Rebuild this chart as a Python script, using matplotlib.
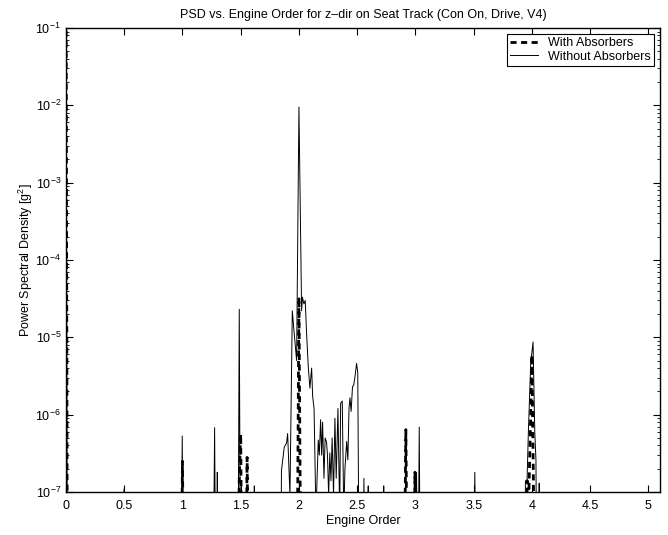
import numpy as np
import matplotlib
matplotlib.use("Agg")
import matplotlib.pyplot as plt
from matplotlib.ticker import LogLocator, NullFormatter

plt.rcParams['font.family'] = ['Liberation Sans', 'DejaVu Sans']
plt.rcParams['mathtext.default'] = 'regular'

FLOOR = 1e-9  # below the visible range, lines drop off the bottom

# With Absorbers (dashed)
eo_with = [0.0, 0.0125, 0.985, 1.0, 1.015, 1.475, 1.4875, 1.5, 1.5125, 1.54, 1.555, 1.57,
           1.97, 1.99, 2.0, 2.01, 2.025, 2.90, 2.918, 2.935, 2.985, 2.996, 3.01,
           3.94, 3.96, 3.975, 3.99, 4.0, 4.012, 4.03, 5.1]
psd_with = [1.0, FLOOR, FLOOR, 2.5e-7, FLOOR, FLOOR, 1.5e-7, 5.6e-7, FLOOR, FLOOR, 2.8e-7, FLOOR,
            FLOOR, 1.2e-7, 3.3e-5, 1.5e-7, FLOOR, FLOOR, 6.4e-7, FLOOR, FLOOR, 1.8e-7, FLOOR,
            FLOOR, 1.4e-7, 1.1e-7, 1.0e-6, 5.9e-6, 2e-7, FLOOR, FLOOR]

# Without Absorbers (solid)
eo_without = [0.0, 0.0125, 0.49, 0.5, 0.51, 0.985, 0.998, 1.01,
              1.26, 1.276, 1.288, 1.299, 1.31,
              1.475, 1.4875, 1.5, 1.605, 1.617, 1.63,
              1.84, 1.85, 1.874, 1.894, 1.903, 1.923, 1.943, 1.96, 1.98, 2.0, 2.023, 2.03,
              2.043, 2.054, 2.066, 2.08, 2.094, 2.109, 2.118, 2.13, 2.146, 2.166, 2.175, 2.186,
              2.195, 2.203, 2.215, 2.225, 2.237, 2.245, 2.255, 2.265, 2.275, 2.285, 2.297,
              2.309, 2.32, 2.335, 2.35, 2.358, 2.372, 2.385, 2.395, 2.41, 2.42, 2.43, 2.438,
              2.448, 2.46, 2.47, 2.48, 2.495, 2.505, 2.52,
              2.545, 2.558, 2.57, 2.585, 2.595, 2.605, 2.715, 2.728, 2.74,
              2.995, 3.01, 3.02, 3.033, 3.045, 3.495, 3.51, 3.525,
              3.93, 3.945, 3.958, 3.97, 3.99, 4.01, 4.025, 4.035, 4.045, 4.055, 4.063, 4.075, 5.1]
psd_without = [1.0, FLOOR, FLOOR, 1.1e-7, FLOOR, FLOOR, 5.3e-7, FLOOR,
               FLOOR, 6.8e-7, FLOOR, 1.8e-7, FLOOR,
               FLOOR, 2.3e-5, FLOOR, FLOOR, 1.2e-7, FLOOR,
               FLOOR, 1.9e-7, 3.8e-7, 4.3e-7, 5.7e-7, 9e-8, 2.2e-5, 1.1e-5, 5e-6, 9.5e-3, 2.2e-5, 3.3e-5,
               2.7e-5, 3.0e-5, 1.1e-5, 4.2e-6, 2.2e-6, 4e-6, 1.7e-6, 1.2e-6, 5e-8, 4.7e-7, 3e-7, 8.6e-7,
               3e-7, 8e-7, 1.5e-7, 5e-7, 4.4e-7, 3e-7, 9e-8, 3.2e-7, 1.4e-7, 5e-7, 9e-8,
               9e-7, 1.5e-7, 1.2e-6, 5e-8, 1.4e-6, 1.5e-6, 5e-8, 2e-7, 4.5e-7, 2.6e-7, 1.2e-6, 1.65e-6,
               1.1e-6, 2.3e-6, 2.4e-6, 3e-6, 4.6e-6, 3.5e-6, FLOOR,
               FLOOR, 1.5e-7, FLOOR, FLOOR, 1.2e-7, FLOOR, FLOOR, 1.2e-7, FLOOR,
               FLOOR, 1.8e-7, FLOOR, 6.9e-7, FLOOR, FLOOR, 1.8e-7, FLOOR,
               FLOOR, 1.4e-7, 1.3e-7, 6e-7, 4.6e-6, 8.7e-6, 6e-7, 2.6e-7, FLOOR, FLOOR, 1.3e-7, FLOOR, FLOOR]

fig = plt.figure(figsize=(6.68, 5.35), dpi=100)
ax = fig.add_axes([0.0988, 0.0804, 0.8892, 0.8673])

ax.semilogy(eo_with, psd_with, color='black', linewidth=2.0, dashes=(2.2, 1.6),
            label='With Absorbers')
ax.semilogy(eo_without, psd_without, color='black', linewidth=0.7, label='Without Absorbers')

ax.set_xlim(0, 5.1)
ax.set_ylim(1e-7, 1e-1)
ax.set_xticks(np.arange(0, 5.01, 0.5))
ax.set_xticklabels(['0', '0.5', '1', '1.5', '2', '2.5', '3', '3.5', '4', '4.5', '5'])
ax.yaxis.set_major_locator(LogLocator(base=10, numticks=10))
ax.yaxis.set_minor_locator(LogLocator(base=10, subs=np.arange(2, 10), numticks=20))
ax.yaxis.set_minor_formatter(NullFormatter())

ax.tick_params(which='both', direction='in', top=True, right=True, labelsize=9)
ax.tick_params(which='major', length=5)
ax.tick_params(which='minor', length=2.5)
ax.tick_params(axis='x', pad=6)
for s in ax.spines.values():
    s.set_linewidth(1.0)

ax.set_title('PSD vs. Engine Order for z\u2013dir on Seat Track (Con On, Drive, V4)', fontsize=9, pad=7)
ax.set_xlabel('Engine Order', fontsize=9, labelpad=2)
ax.set_ylabel('Power Spectral Density [g$^2$]', fontsize=9, labelpad=0)

leg = ax.legend(loc='upper right', fontsize=9, fancybox=False, framealpha=1,
                edgecolor='black', borderpad=0.25, handlelength=2.2,
                labelspacing=0.1, borderaxespad=0.5)
leg.get_frame().set_linewidth(0.8)

fig.savefig('out.png', dpi=100)
